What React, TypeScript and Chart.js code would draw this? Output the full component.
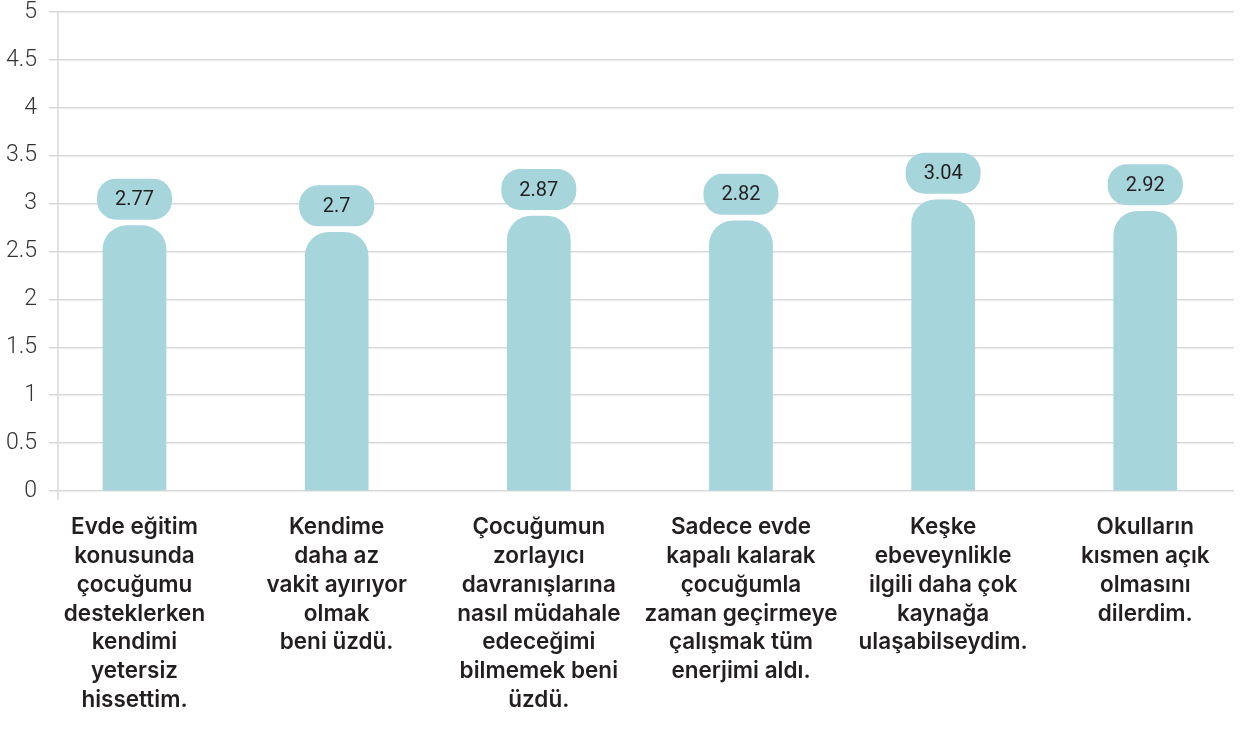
import React, { useEffect, useRef } from "react";
import { Chart, registerables } from "chart.js";

Chart.register(...registerables);

const categories: string[][] = [
  ["Evde eğitim", "konusunda", "çocuğumu", "desteklerken", "kendimi", "yetersiz", "hissettim."],
  ["Kendime", "daha az", "vakit ayırıyor", "olmak", "beni üzdü."],
  ["Çocuğumun", "zorlayıcı", "davranışlarına", "nasıl müdahale", "edeceğimi", "bilmemek beni", "üzdü."],
  ["Sadece evde", "kapalı kalarak", "çocuğumla", "zaman geçirmeye", "çalışmak tüm", "enerjimi aldı."],
  ["Keşke", "ebeveynlikle", "ilgili daha çok", "kaynağa", "ulaşabilseydim."],
  ["Okulların", "kısmen açık", "olmasını", "dilerdim."],
];
const values: number[] = [2.77, 2.7, 2.87, 2.82, 3.04, 2.92];
const yMin = 0;
const yMax = 5;
const yStep = 0.5;

const BAR_COLOR = "#a6d5dc";
const GRID_COLOR = "#d9d9d9";
const TEXT_COLOR = "#231f20";

const valuePills = {
  id: "valuePills",
  afterDatasetsDraw(chart: any) {
    const ctx = chart.ctx;
    const meta = chart.getDatasetMeta(0);
    ctx.save();
    meta.data.forEach((bar: any, i: number) => {
      const w = 75;
      const h = 41;
      const r = 19;
      const x = bar.x - w / 2;
      const y = bar.y - 6 - h;
      ctx.beginPath();
      ctx.roundRect(x, y, w, h, r);
      ctx.fillStyle = BAR_COLOR;
      ctx.fill();
      ctx.fillStyle = TEXT_COLOR;
      ctx.font = '400 20px Roboto';
      ctx.textAlign = "center";
      ctx.textBaseline = "middle";
      ctx.fillText(String(values[i]), bar.x, y + h / 2 + 1);
    });
    ctx.restore();
  },
};

const axisLine = {
  id: "axisLine",
  beforeDatasetsDraw(chart: any) {
    const { ctx, chartArea } = chart;
    ctx.save();
    ctx.strokeStyle = GRID_COLOR;
    ctx.lineWidth = 1.5;
    ctx.beginPath();
    ctx.moveTo(chartArea.left, chartArea.top);
    ctx.lineTo(chartArea.left, chartArea.bottom + 9);
    ctx.stroke();
    ctx.restore();
  },
};

export default function App() {
  const ref = useRef<HTMLCanvasElement | null>(null);

  useEffect(() => {
    if (!ref.current) return;
    const chart = new Chart(ref.current, {
      type: "bar",
      data: {
        datasets: [
          {
            data: values.map((v, i) => ({ x: i, y: v })),
            backgroundColor: BAR_COLOR,
            barThickness: 63,
            borderRadius: { topLeft: 24, topRight: 24, bottomLeft: 0, bottomRight: 0 },
            borderSkipped: "start",
          },
        ],
      },
      options: {
        responsive: false,
        animation: false,
        layout: { padding: { top: 0, right: 11, left: 0, bottom: 0 } },
        plugins: {
          legend: { display: false },
          tooltip: { enabled: false },
        },
        scales: {
          x: {
            type: "linear",
            offset: false,
            min: -0.3784,
            max: 5.4388,
            grid: { display: false },
            border: { display: false },
            afterBuildTicks: (s: any) => {
              s.ticks = values.map((_, i) => ({ value: i }));
            },
            afterFit: (s: any) => {
              s.height = 244;
            },
            ticks: {
              autoSkip: false,
              maxRotation: 0,
              minRotation: 0,
              padding: 14,
              color: TEXT_COLOR,
              font: { family: "Inter", size: 22.5, weight: "600", lineHeight: 1.28 },
              callback: (v: any) => categories[Math.round(Number(v))] ?? "",
            },
          },
          y: {
            min: yMin,
            max: yMax,
            grid: { color: GRID_COLOR, lineWidth: 1.5, tickLength: 9 },
            border: { display: false },
            afterFit: (s: any) => {
              s.width = 58;
              s.paddingTop = 12;
              s.paddingBottom = 0;
            },
            ticks: {
              stepSize: yStep,
              padding: 12,
              color: "#333333",
              font: { family: "Roboto", size: 23, weight: "300" },
              callback: (v: any) => String(v),
            },
          },
        },
      },
      plugins: [axisLine, valuePills],
    });
    return () => chart.destroy();
  }, []);

  return (
    <div style={{ position: "absolute", left: 0, top: 0, width: 1245, height: 735, background: "#fff" }}>
      <canvas ref={ref} width={1245} height={735} style={{ display: "block" }} />
    </div>
  );
}
